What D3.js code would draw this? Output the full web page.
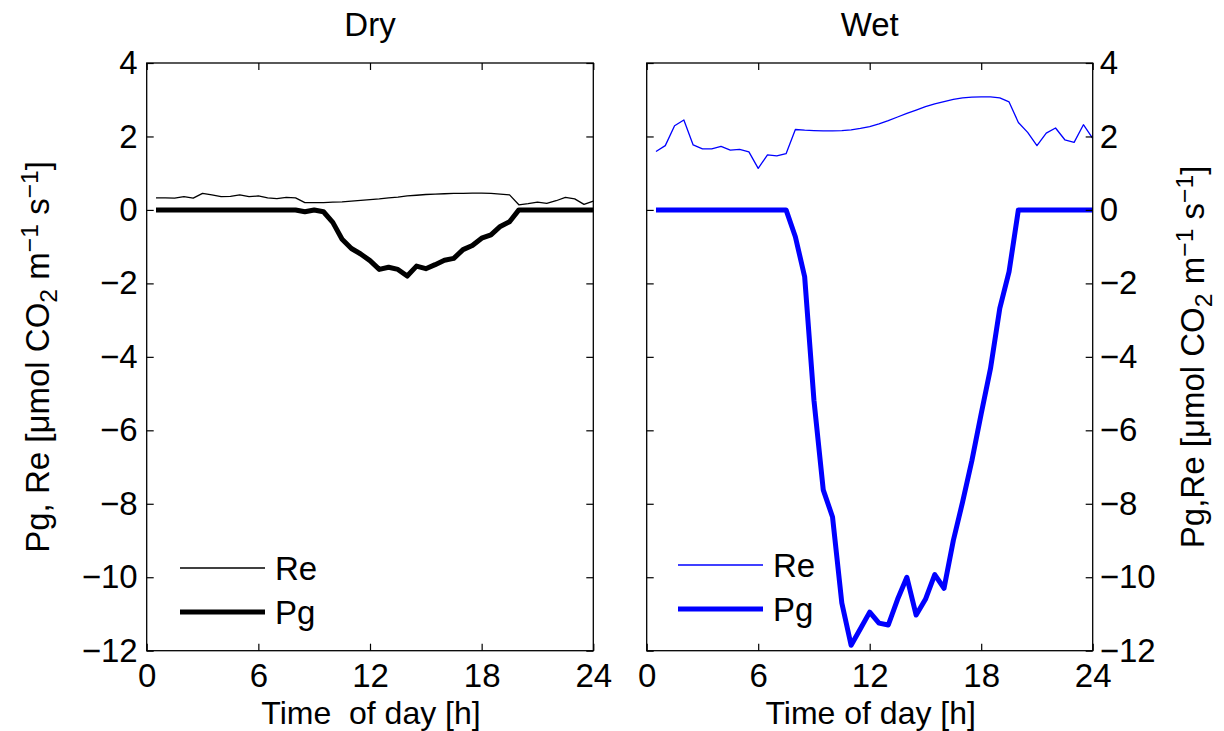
<!DOCTYPE html>
<html>
<head>
<meta charset="utf-8">
<script src="https://cdn.jsdelivr.net/npm/d3@7"></script>
<style>
  body { margin: 0; background: #fff; }
  svg text { font-family: "Liberation Sans", Arial, Helvetica, sans-serif; fill: #000; }
</style>
</head>
<body>
<svg id="chart" width="1224" height="731"></svg>
<script>
// hours of the day (half-hourly)
var hours = [0.5, 1, 1.5, 2, 2.5, 3, 3.5, 4, 4.5, 5, 5.5, 6, 6.5, 7, 7.5, 8,
  8.5, 9, 9.5, 10, 10.5, 11, 11.5, 12, 12.5, 13, 13.5, 14, 14.5, 15, 15.5, 16,
  16.5, 17, 17.5, 18, 18.5, 19, 19.5, 20, 20.5, 21, 21.5, 22, 22.5, 23, 23.5, 24];

var dryRe = [0.33, 0.33, 0.32, 0.36, 0.32, 0.45, 0.41, 0.36, 0.37, 0.41, 0.36, 0.38, 0.33, 0.31, 0.34, 0.33,
  0.20, 0.20, 0.20, 0.21, 0.22, 0.24, 0.26, 0.28, 0.30, 0.33, 0.35, 0.38, 0.40, 0.42, 0.43, 0.44,
  0.45, 0.45, 0.46, 0.46, 0.45, 0.43, 0.41, 0.14, 0.17, 0.21, 0.18, 0.25, 0.34, 0.30, 0.15, 0.24];
var dryPg = [0, 0, 0, 0, 0, 0, 0, 0, 0, 0, 0, 0, 0, 0, 0, 0,
  -0.05, 0.0, -0.05, -0.34, -0.80, -1.05, -1.20, -1.38, -1.62, -1.56, -1.62, -1.80, -1.53, -1.60, -1.49, -1.37,
  -1.32, -1.08, -0.97, -0.77, -0.68, -0.45, -0.32, 0, 0, 0, 0, 0, 0, 0, 0, 0];

var wetRe = [1.59, 1.75, 2.29, 2.45, 1.77, 1.66, 1.66, 1.73, 1.63, 1.65, 1.58, 1.13, 1.50, 1.47, 1.53, 2.19,
  2.17, 2.16, 2.15, 2.15, 2.16, 2.18, 2.22, 2.27, 2.34, 2.43, 2.53, 2.63, 2.72, 2.81, 2.89, 2.95,
  3.01, 3.05, 3.07, 3.08, 3.08, 3.05, 2.94, 2.38, 2.11, 1.75, 2.09, 2.23, 1.91, 1.84, 2.32, 1.95];
var wetPg = [0, 0, 0, 0, 0, 0, 0, 0, 0, 0, 0, 0, 0, 0, 0, -0.73,
  -1.82, -5.18, -7.62, -8.36, -10.7, -11.85, -11.4, -10.95, -11.25, -11.3, -10.6, -10.0, -11.03, -10.6, -9.93, -10.3,
  -9.0, -7.95, -6.82, -5.55, -4.32, -2.68, -1.68, 0, 0, 0, 0, 0, 0, 0, 0, 0];

var xTicks = [0, 6, 12, 18, 24];
var yTicks = [4, 2, 0, -2, -4, -6, -8, -10, -12];
var seriesNames = ['Re', 'Pg'];

(function() {
  var svg = d3.select('#chart');
  var plotTop = 63, plotBottom = 650.7, fs = 33, tickLen = 7;

  var y = d3.scaleLinear().domain([-12, 4]).range([plotBottom, plotTop]);

  function panel(opts) {
    var x = d3.scaleLinear().domain([0, 24]).range([opts.left, opts.right]);
    var g = svg.append('g');
    var line = d3.line().x(function(d) { return x(d[0]); }).y(function(d) { return y(d[1]); });

    // data
    g.append('path').datum(d3.zip(hours, opts.re))
      .attr('d', line).attr('fill', 'none').attr('stroke', opts.color).attr('stroke-width', 1.3)
      .attr('stroke-linejoin', 'round');
    g.append('path').datum(d3.zip(hours, opts.pg))
      .attr('d', line).attr('fill', 'none').attr('stroke', opts.color).attr('stroke-width', 5)
      .attr('stroke-linejoin', 'round');

    // box
    g.append('rect').attr('x', opts.left).attr('y', plotTop)
      .attr('width', opts.right - opts.left).attr('height', plotBottom - plotTop)
      .attr('fill', 'none').attr('stroke', '#000').attr('stroke-width', 1.3);

    var xb = d3.axisBottom(x).tickValues(xTicks).tickSizeInner(-tickLen).tickSizeOuter(0).tickPadding(13);
    var xt = d3.axisTop(x).tickValues(xTicks).tickSizeInner(-tickLen).tickSizeOuter(0).tickFormat('');
    var yl = d3.axisLeft(y).tickValues(yTicks).tickSizeInner(-tickLen).tickSizeOuter(0).tickPadding(9);
    var yr = d3.axisRight(y).tickValues(yTicks).tickSizeInner(-tickLen).tickSizeOuter(0).tickPadding(7);
    if (opts.labelsRight) yl.tickFormat(''); else yr.tickFormat('');

    [[xb, 'translate(0,' + plotBottom + ')'], [xt, 'translate(0,' + plotTop + ')'],
     [yl, 'translate(' + opts.left + ',0)'], [yr, 'translate(' + opts.right + ',0)']].forEach(function(a) {
      var ax = g.append('g').attr('transform', a[1]).call(a[0]);
      ax.attr('font-family', null).attr('font-size', null);
      ax.select('.domain').remove();
      ax.selectAll('line').attr('stroke', '#000').attr('stroke-width', 1.2);
      ax.selectAll('text').attr('font-size', fs);
    });

    // title + x label
    g.append('text').attr('x', (opts.left + opts.right) / 2).attr('y', 36)
      .attr('text-anchor', 'middle').attr('font-size', fs).text(opts.title);
    g.append('text').attr('x', (opts.left + opts.right) / 2 + 1).attr('y', 724)
      .attr('text-anchor', 'middle').attr('font-size', 32).style('white-space', 'pre').text(opts.xlabel);

    // legend
    var leg = g.append('g').selectAll('g').data(seriesNames).enter().append('g')
      .attr('transform', function(d, i) { return 'translate(' + opts.legX + ',' + (opts.legY + i * 44) + ')'; });
    leg.append('line').attr('x1', 0).attr('x2', 85).attr('y1', 0).attr('y2', 0)
      .attr('stroke', opts.color).attr('stroke-width', function(d) { return d === 'Pg' ? 5 : 1.3; });
    leg.append('text').attr('x', 95).attr('y', 12).attr('font-size', fs).text(function(d) { return d; });

    // y label
    var yt = g.append('text').attr('font-size', fs).attr('text-anchor', 'middle')
      .attr('transform', 'translate(' + opts.ylabX + ',' + ((plotTop + plotBottom) / 2) + ') rotate(-90)');
    yt.append('tspan').text(opts.ylabel + ' [\u03bcmol CO');
    yt.append('tspan').attr('baseline-shift', '-30%').attr('font-size', fs * 0.75).text('2');
    yt.append('tspan').text(' m');
    yt.append('tspan').attr('baseline-shift', '45%').attr('font-size', fs * 0.75).text('\u22121');
    yt.append('tspan').text(' s');
    yt.append('tspan').attr('baseline-shift', '45%').attr('font-size', fs * 0.75).text('\u22121');
    yt.append('tspan').text(']');
  }

  panel({ left: 146.7, right: 593.3, color: '#000', re: dryRe, pg: dryPg, title: 'Dry',
    xlabel: 'Time  of day [h]', legX: 180, legY: 568, ylabel: 'Pg, Re', ylabX: 49, labelsRight: false });
  panel({ left: 646.7, right: 1092.7, color: '#0000ff', re: wetRe, pg: wetPg, title: 'Wet',
    xlabel: 'Time of day [h]', legX: 678, legY: 565, ylabel: 'Pg,Re', ylabX: 1204, labelsRight: true });
})();
</script>
</body>
</html>
